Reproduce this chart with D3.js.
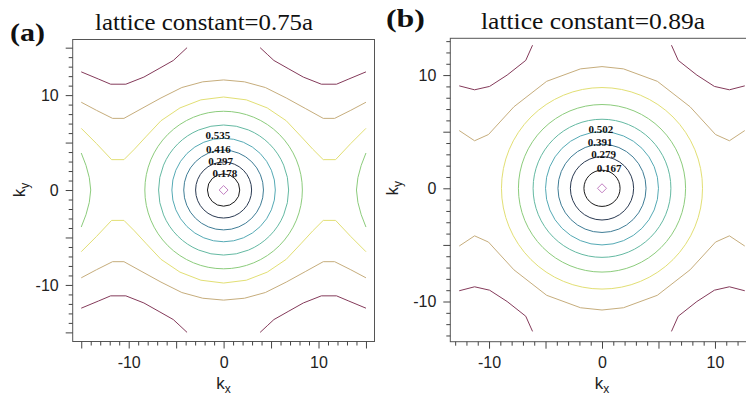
<!DOCTYPE html>
<html><head><meta charset="utf-8">
<script src="https://cdn.jsdelivr.net/npm/d3@7"></script>
<style>body{margin:0;background:#fff} svg{display:block;background:#fff}</style>
</head><body><svg id="c" width="746" height="398"></svg>
<script>
// ---------- data ----------
const panelTags = ["(a)", "(b)"];
const panelTitles = ["lattice constant=0.75a", "lattice constant=0.89a"];
const tickLabelValues = [-10, 0, 10];
const majorTicksA = [-15, -10, -5, 0, 5, 10, 15];
const majorTicksB = [-10, -5, 0, 5, 10];
const minorTicksA = d3.range(-15, 16);
const minorTicksB = d3.range(-13, 14);

// contour level colours, inner (0) to outer (9)
const levelColors = ["#c27fc2", "#1c1c1c", "#2a3a52", "#3f7d96", "#55aab5",
                     "#64b9a2", "#8ccc7c", "#e2df74", "#c6ad7c", "#843a5a"];

// labelled contour levels and label anchor (kx, ky)
const levelLabelsA = ["0.178", "0.297", "0.416", "0.535"];
const labelPosA = [[0.13, 1.4], [-0.32, 2.63], [-0.56, 3.86], [-0.61, 5.34]];
const levelLabelsB = ["0.167", "0.279", "0.391", "0.502"];
const labelPosB = [[0.64, 1.47], [0.15, 2.65], [-0.16, 3.73], [-0.09, 4.9]];

// closed contours around k=0: diamond half-diagonal and ring radii (levels 1..)
const diamondA = 0.47;
const ringRadiiA = [1.7, 2.95, 4.2, 5.45, 6.85, 8.3];
const diamondB = 0.4;
const ringRadiiB = [1.6, 2.8, 3.9, 5.0, 6.1, 7.4, 8.9];

// open contours, upper-left quadrant (kx<=0, ky>=0)
const yellowA = [[-15, 6.5], [-13.4, 4.9], [-11.8, 3.2], [-10.5, 3.2], [-9.4, 4.3], [-8.2, 5.6],
                 [-6.6, 7.3], [-4.6, 8.65], [-2.4, 9.5], [0, 9.8]];
const tanA = [[-15, 9.25], [-13.4, 8.4], [-11.7, 7.55], [-10.5, 7.55], [-8.6, 8.6], [-6.6, 9.7],
              [-4.4, 10.8], [-2.2, 11.4], [0, 11.6]];
const maroonA = [[-15, 12.45], [-13.2, 11.7], [-11.9, 11.15], [-10.3, 11.15], [-8.4, 11.9],
                 [-6.8, 12.8], [-5.3, 13.65], [-4.6, 14.3], [-3.85, 15]];
const sideGreenA = [[-15, 3.9], [-14.5, 2.6], [-14.15, 1.3], [-14.0, 0]];

const tanB = [[-12.64, 5.1], [-11.28, 4.2], [-10.05, 4.75], [-7.8, 7.2], [-4.9, 9.45],
              [-1.9, 10.55], [0, 10.75]];
const maroonB = [[-12.64, 9.05], [-11.28, 8.7], [-9.95, 9.0], [-8.4, 10.0], [-6.75, 11.3],
                 [-6.15, 12.64]];

// ---------- helpers ----------
const mX = p => p.map(([x, y]) => [-x, y]);
const mY = p => p.map(([x, y]) => [x, -y]);
const joinX = q => q.concat(mX(q).reverse().slice(1));
const joinY = q => q.concat(mY(q).reverse().slice(1));

const svg = d3.select("#c");
const serif = "'Liberation Serif','Times New Roman',serif";
const sans = "'Liberation Sans',Arial,sans-serif";

function drawPanel(cfg) {
  const x = d3.scaleLinear().domain(cfg.xDom).range([cfg.box.l, cfg.box.r]);
  const y = d3.scaleLinear().domain(cfg.yDom).range([cfg.box.b, cfg.box.t]);
  const g = svg.append("g");
  const line = d3.line().x(d => x(d[0])).y(d => y(d[1]));

  // open contours
  cfg.curves.forEach(c => {
    g.append("path").attr("d", line(c.pts)).attr("fill", "none")
      .attr("stroke", levelColors[c.level]).attr("stroke-width", 1);
  });
  // rings
  cfg.rings.forEach((r, i) => {
    g.append("ellipse").attr("cx", x(0)).attr("cy", y(0))
      .attr("rx", x(r) - x(0)).attr("ry", y(0) - y(r))
      .attr("fill", "none").attr("stroke", levelColors[i + 1]).attr("stroke-width", 1);
  });
  // diamond
  const d = cfg.diamond;
  g.append("path").attr("d", line([[d, 0], [0, d], [-d, 0], [0, -d], [d, 0]]))
    .attr("fill", "none").attr("stroke", levelColors[0]).attr("stroke-width", 1);
  // level labels
  cfg.labels.forEach((t, i) => {
    g.append("text").attr("x", x(cfg.labelPos[i][0])).attr("y", y(cfg.labelPos[i][1]))
      .attr("text-anchor", "middle").attr("font-family", serif).attr("font-weight", "bold")
      .attr("font-size", 11).attr("fill", "#111").text(t);
  });

  // frame
  g.append("rect").attr("x", cfg.box.l).attr("y", cfg.box.t)
    .attr("width", cfg.box.r - cfg.box.l).attr("height", cfg.box.b - cfg.box.t)
    .attr("fill", "none").attr("stroke", "#555").attr("stroke-width", 1);

  const fmt = v => tickLabelValues.includes(v) ? String(v) : "";
  const style = sel => {
    sel.select(".domain").remove();
    sel.selectAll("line").attr("stroke", "#444");
    sel.selectAll("text").attr("font-family", sans).attr("font-size", 16).attr("fill", "#222");
  };
  const minorsOnly = cfg.minors.filter(v => !cfg.majors.includes(v));
  g.append("g").attr("transform", `translate(0,${cfg.box.b})`)
    .call(d3.axisBottom(x).tickValues(minorsOnly).tickSize(4).tickFormat(""))
    .call(style);
  g.append("g").attr("transform", `translate(0,${cfg.box.b})`)
    .call(d3.axisBottom(x).tickValues(cfg.majors).tickSize(7).tickPadding(8).tickFormat(fmt))
    .call(style);
  g.append("g").attr("transform", `translate(${cfg.box.l},0)`)
    .call(d3.axisLeft(y).tickValues(minorsOnly).tickSize(4).tickFormat(""))
    .call(style);
  g.append("g").attr("transform", `translate(${cfg.box.l},0)`)
    .call(d3.axisLeft(y).tickValues(cfg.majors).tickSize(7).tickPadding(7).tickFormat(fmt))
    .call(style);

  // axis titles
  const kx = g.append("text").attr("x", x(0)).attr("y", 389).attr("text-anchor", "middle")
    .attr("font-family", sans).attr("font-size", 17).attr("fill", "#222");
  kx.append("tspan").text("k");
  kx.append("tspan").attr("dy", 4).attr("font-size", 12).text("x");
  const ky = g.append("text").attr("transform", `translate(${cfg.kyX},${y(0)}) rotate(-90)`)
    .attr("text-anchor", "middle").attr("font-family", sans).attr("font-size", 17).attr("fill", "#222");
  ky.append("tspan").text("k");
  ky.append("tspan").attr("dy", 4).attr("font-size", 12).text("y");

  // panel tag and title
  svg.append("text").attr("x", cfg.tag.x).attr("y", cfg.tag.y).attr("font-family", serif)
    .attr("font-weight", "bold").attr("font-size", 26).attr("fill", "#111")
    .attr("textLength", cfg.tag.w).attr("lengthAdjust", "spacingAndGlyphs").text(cfg.tagText);
  svg.append("text").attr("x", cfg.title.x).attr("y", cfg.title.y).attr("font-family", serif)
    .attr("font-size", 23).attr("fill", "#111")
    .attr("textLength", cfg.title.w).attr("lengthAdjust", "spacingAndGlyphs").text(cfg.titleText);
}

// panel (a)
const yA = joinX(yellowA), tA = joinX(tanA), sA = joinY(sideGreenA);
drawPanel({
  tagText: panelTags[0], titleText: panelTitles[0],
  tag: {x: 10, y: 41, w: 35}, title: {x: 95, y: 30, w: 218},
  box: {l: 72.7, t: 39.5, r: 374.5, b: 341.5},
  xDom: [-15.9, 15.9], yDom: [-15.96, 15.86],
  majors: majorTicksA, minors: minorTicksA, kyX: 25,
  rings: ringRadiiA, diamond: diamondA,
  labels: levelLabelsA, labelPos: labelPosA,
  curves: [
    {level: 6, pts: sA}, {level: 6, pts: mX(sA)},
    {level: 7, pts: yA}, {level: 7, pts: mY(yA)},
    {level: 8, pts: tA}, {level: 8, pts: mY(tA)},
    {level: 9, pts: maroonA}, {level: 9, pts: mX(maroonA)},
    {level: 9, pts: mY(maroonA)}, {level: 9, pts: mY(mX(maroonA))}
  ]
});

// panel (b)
const tB = joinX(tanB);
drawPanel({
  tagText: panelTags[1], titleText: panelTitles[1],
  tag: {x: 386, y: 27, w: 39}, title: {x: 481, y: 29, w: 224},
  box: {l: 450.3, t: 38.3, r: 753.7, b: 341.7},
  xDom: [-13.43, 13.43], yDom: [-13.55, 13.25],
  majors: majorTicksB, minors: minorTicksB, kyX: 398,
  rings: ringRadiiB, diamond: diamondB,
  labels: levelLabelsB, labelPos: labelPosB,
  curves: [
    {level: 8, pts: tB}, {level: 8, pts: mY(tB)},
    {level: 9, pts: maroonB}, {level: 9, pts: mX(maroonB)},
    {level: 9, pts: mY(maroonB)}, {level: 9, pts: mY(mX(maroonB))}
  ]
});
</script></body></html>
